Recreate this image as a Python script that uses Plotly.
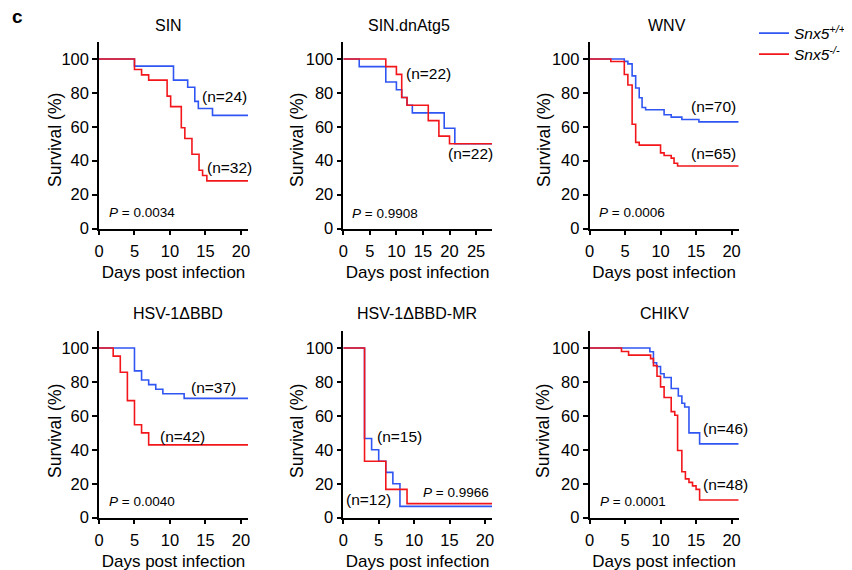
import plotly.graph_objects as go

# ---------------- data ----------------
panel_titles = ["SIN", "SIN.dnAtg5", "WNV", "HSV-1\u0394BBD", "HSV-1\u0394BBD-MR", "CHIKV"]
x_max = [21, 28, 21, 21, 21, 21]
x_ticks = [[0, 5, 10, 15, 20], [0, 5, 10, 15, 20, 25], [0, 5, 10, 15, 20],
           [0, 5, 10, 15, 20], [0, 5, 10, 15, 20], [0, 5, 10, 15, 20]]
y_ticks = [0, 20, 40, 60, 80, 100]

# SIN
sin_wt_t = [0, 5, 10.5, 12.5, 13.5, 14, 16]
sin_wt_s = [100, 95.8, 87.5, 83.3, 75.0, 70.8, 66.7]
sin_ko_t = [0, 5, 6, 7, 9.6, 10.1, 11.6, 12.1, 13.1, 14.1, 14.6, 15.2]
sin_ko_s = [100, 93.75, 90.6, 87.5, 78.1, 71.9, 59.4, 53.1, 43.75, 34.4, 31.25, 28.1]

# SIN.dnAtg5
dn_wt_t = [0, 3, 8, 10, 11, 12, 13, 19, 21]
dn_wt_s = [100, 95.5, 86.4, 81.8, 77.3, 72.7, 68.2, 59.1, 50.0]
dn_ko_t = [0, 8, 10, 11, 12, 16, 18, 20]
dn_ko_s = [100, 95.5, 90.9, 77.3, 72.7, 63.6, 54.5, 50.0]

# WNV
wnv_wt_t = [0, 4.9, 5.4, 6.0, 6.5, 7.0, 7.4, 7.9, 10.5, 11.5, 13.0, 15.4]
wnv_wt_s = [100, 98.6, 97.1, 90.0, 82.9, 77.1, 71.4, 70.0, 67.1, 65.7, 64.3, 62.9]
wnv_ko_t = [0, 3.0, 4.9, 5.4, 6.0, 6.5, 7.0, 10.0, 10.5, 11.5, 11.9, 12.4]
wnv_ko_s = [100, 98.5, 90.8, 84.6, 61.5, 50.8, 49.2, 44.6, 43.1, 41.5, 38.5, 36.9]

# HSV-1dBBD
hsv_wt_t = [0, 5, 6, 7, 8, 9, 12]
hsv_wt_s = [100, 86.5, 81.1, 78.4, 75.7, 73.0, 70.3]
hsv_ko_t = [0, 2, 3, 4, 5, 6, 7]
hsv_ko_s = [100, 95.2, 85.7, 69.0, 54.8, 50.0, 42.9]

# HSV-1dBBD-MR
mr_wt_t = [0, 3, 4, 5, 6, 7, 8]
mr_wt_s = [100, 46.7, 40.0, 33.3, 26.7, 20.0, 6.7]
mr_ko_t = [0, 3, 6, 9]
mr_ko_s = [100, 33.3, 16.7, 8.3]

# CHIKV
chik_wt_t = [0, 8.5, 9.0, 9.45, 10.0, 10.5, 11.5, 12.5, 13.0, 13.4, 14.0, 15.5]
chik_wt_s = [100, 97.8, 91.3, 89.1, 84.8, 82.6, 76.1, 71.7, 67.4, 65.2, 50.0, 43.5]
chik_ko_t = [0, 4.5, 5.5, 8.6, 9.0, 9.5, 10.0, 10.5, 11.5, 12.0, 12.4, 13.0, 13.5, 14.0, 14.5, 15.0, 15.5]
chik_ko_s = [100, 97.9, 95.8, 93.75, 89.6, 83.3, 77.1, 70.8, 62.5, 60.4, 39.6, 27.1, 22.9, 20.8, 18.75, 16.7, 10.4]

wt_times = [sin_wt_t, dn_wt_t, wnv_wt_t, hsv_wt_t, mr_wt_t, chik_wt_t]
wt_surv = [sin_wt_s, dn_wt_s, wnv_wt_s, hsv_wt_s, mr_wt_s, chik_wt_s]
ko_times = [sin_ko_t, dn_ko_t, wnv_ko_t, hsv_ko_t, mr_ko_t, chik_ko_t]
ko_surv = [sin_ko_s, dn_ko_s, wnv_ko_s, hsv_ko_s, mr_ko_s, chik_ko_s]

n_wt_labels = ["(n=24)", "(n=22)", "(n=70)", "(n=37)", "(n=15)", "(n=46)"]
n_ko_labels = ["(n=32)", "(n=22)", "(n=65)", "(n=42)", "(n=12)", "(n=48)"]
p_values = ["0.0034", "0.9908", "0.0006", "0.0040", "0.9966", "0.0001"]

# label positions (data coords)
n_wt_pos = [(17.7, 77.8), (16.0, 91.7), (17.5, 72.2), (16.2, 76.7), (8.0, 47.6), (19.2, 52.6)]
n_ko_pos = [(18.4, 36.0), (24.0, 44.0), (17.5, 44.2), (11.7, 48.0), (3.6, 10.6), (19.2, 19.5)]
p_pos = [(1.1, 9.4), (1.26, 9.1), (1.1, 9.3), (1.1, 9.5), (11.0, 14.8), (1.2, 9.4)]

series_names = ["<i>Snx5<sup>+/+</sup></i>", "<i>Snx5<sup>-/-</sup></i>"]
colors = ["#2F55F2", "#F2161B"]
y_title = "Survival (%)"
x_title = "Days post infection"

# ---------------- layout geometry ----------------
W, H = 852, 570
OFF = 8  # page body margin offset
col_px = [(99, 248), (343.3, 492), (589.5, 738.7)]
row_px = [(42, 228.5), (331, 517.7)]
title_px = [(168, 25.5), (409, 25.5), (667, 25.5), (178, 313), (417, 313), (664, 313)]
ytitle_px = [(55, 140), (297, 140), (544, 140), (55, 431), (297, 431), (543, 431)]
legend_px = [(754, 33.5), (754, 54.5)]


def px_x(v):
    return (v - OFF) / W


def px_y(v):
    return 1 - (v - OFF) / H


FONT = "Liberation Sans, Arial, sans-serif"
fig = go.Figure()
annotations = []
legend_keys = ["legend", "legend2"]

for i in range(6):
    r, c = divmod(i, 3)
    xa = "x" if i == 0 else f"x{i+1}"
    ya = "y" if i == 0 else f"y{i+1}"
    xmax = x_max[i]
    for k, (tt, ss) in enumerate([(wt_times[i], wt_surv[i]), (ko_times[i], ko_surv[i])]):
        xs = list(tt) + [xmax]
        ys = list(ss) + [ss[-1]]
        fig.add_trace(go.Scatter(
            x=xs, y=ys, mode="lines", line=dict(color=colors[k], width=1.6, shape="hv"),
            name=series_names[k], showlegend=(i == 0), legend=legend_keys[k],
            xaxis=xa, yaxis=ya, hoverinfo="skip", cliponaxis=False))
    x0, x1 = col_px[c]
    y0, y1 = row_px[r]
    axis_common = dict(showline=True, linecolor="black", linewidth=1.5, ticks="outside",
                       ticklen=5, tickwidth=1.5, tickcolor="black", showgrid=False, zeroline=False,
                       tickfont=dict(family=FONT, size=16.5, color="black"), mirror=False,
                       automargin=False)
    fig.layout[("xaxis" if i == 0 else f"xaxis{i+1}")] = dict(
        domain=[px_x(x0), px_x(x1)], anchor=ya, range=[0, xmax], tickvals=x_ticks[i],
        title=dict(text=x_title, font=dict(family=FONT, size=17, color="black"), standoff=7),
        ticklabelstandoff=2, **axis_common)
    fig.layout[("yaxis" if i == 0 else f"yaxis{i+1}")] = dict(
        domain=[px_y(y1), px_y(y0)], anchor=xa, range=[0, 110], tickvals=y_ticks,
        **axis_common)
    tx, ty = title_px[i]
    annotations.append(dict(text=panel_titles[i], x=px_x(tx), y=px_y(ty), xref="paper", yref="paper",
                            showarrow=False, xanchor="center", yanchor="middle",
                            font=dict(family=FONT, size=16, color="black")))
    yx, yy = ytitle_px[i]
    annotations.append(dict(text=y_title, x=px_x(yx), y=px_y(yy), xref="paper", yref="paper",
                            showarrow=False, xanchor="center", yanchor="middle", textangle=-90,
                            font=dict(family=FONT, size=17.5, color="black")))
    for txt, (px, py) in [(n_wt_labels[i], n_wt_pos[i]), (n_ko_labels[i], n_ko_pos[i])]:
        annotations.append(dict(text=txt, x=px, y=py, xref=xa, yref=ya, showarrow=False,
                                xanchor="center", yanchor="middle",
                                font=dict(family=FONT, size=15.5, color="black")))
    px, py = p_pos[i]
    annotations.append(dict(text=f"<i>P</i> = {p_values[i]}", x=px, y=py, xref=xa, yref=ya,
                            showarrow=False, xanchor="left", yanchor="middle",
                            font=dict(family=FONT, size=13.5, color="black")))

annotations.append(dict(text="<b>c</b>", x=px_x(10), y=px_y(16), xref="paper", yref="paper",
                        showarrow=False, xanchor="left", yanchor="middle",
                        font=dict(family=FONT, size=19, color="black")))

legend_style = dict(xanchor="left", yanchor="middle",
                    font=dict(family=FONT, size=15.5, color="black"), bgcolor="rgba(0,0,0,0)",
                    itemwidth=30, tracegroupgap=0)

fig.update_layout(
    width=W, height=H, margin=dict(l=0, r=0, t=0, b=0, autoexpand=False),
    paper_bgcolor="white", plot_bgcolor="white",
    annotations=annotations,
    legend=dict(x=px_x(legend_px[0][0]), y=px_y(legend_px[0][1]), **legend_style),
    legend2=dict(x=px_x(legend_px[1][0]), y=px_y(legend_px[1][1]), **legend_style),
    showlegend=True,
)

fig.write_html("out.html")
